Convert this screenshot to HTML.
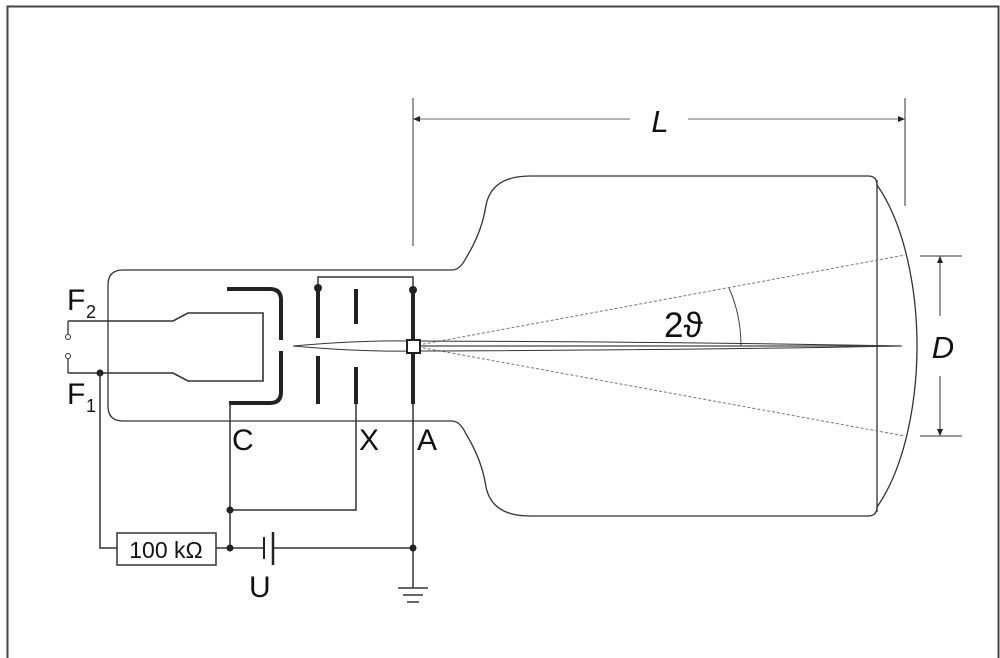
<!DOCTYPE html>
<html><head><meta charset="utf-8"><style>
html,body{margin:0;padding:0;background:#fff}
svg{display:block}
text{font-family:"Liberation Sans",sans-serif;fill:#111}
</style></head><body>
<svg width="1000" height="658" viewBox="0 0 1000 658" xmlns="http://www.w3.org/2000/svg">
<!-- frame -->
<path d="M7.5 658 V6.5 H998.5 V658" fill="none" stroke="#444" stroke-width="2"/>
<!-- tube outline -->
<path d="M123 270 H452 Q460 270 466 258 Q482 232 486 205 Q492 176 530 176 H868 Q877 176 877 185 C905 225 917 290 917 346 C917 402 905 467 877 507 Q877 516 868 516 H530 Q492 516 486 487 Q482 460 466 434 Q460 421 452 421 H123 Q108 421 108 406 V285 Q108 270 123 270" fill="none" stroke="#333" stroke-width="1.3"/>
<line x1="877" y1="180" x2="877" y2="512" stroke="#333" stroke-width="1.3"/>
<!-- L dimension -->
<line x1="413" y1="98" x2="413" y2="246" stroke="#333" stroke-width="1"/>
<line x1="905" y1="98" x2="905" y2="206" stroke="#333" stroke-width="1"/>
<line x1="413" y1="119" x2="630" y2="119" stroke="#666" stroke-width="1"/>
<line x1="688" y1="119" x2="905" y2="119" stroke="#666" stroke-width="1"/>
<path d="M413 119 l7 -3 v6 z M905 119 l-7 -3 v6 z" fill="#222"/>
<text x="660" y="132" font-size="31" font-style="italic" text-anchor="middle">L</text>
<!-- D dimension -->
<line x1="920" y1="256" x2="962" y2="256" stroke="#333" stroke-width="1"/>
<line x1="920" y1="436" x2="962" y2="436" stroke="#333" stroke-width="1"/>
<line x1="940" y1="256" x2="940" y2="316" stroke="#333" stroke-width="1"/>
<line x1="940" y1="376" x2="940" y2="436" stroke="#333" stroke-width="1"/>
<path d="M940 256 l-3 7 h6 z M940 436 l-3 -7 h6 z" fill="#222"/>
<text x="943" y="358" font-size="31" font-style="italic" text-anchor="middle">D</text>
<!-- dashed cone -->
<line x1="413" y1="346" x2="905" y2="255" stroke="#777" stroke-width="1" stroke-dasharray="3,2"/>
<line x1="413" y1="346" x2="905" y2="436" stroke="#777" stroke-width="1" stroke-dasharray="3,2"/>
<!-- angle arc -->
<path d="M729 288 Q741 315 741 346" fill="none" stroke="#444" stroke-width="1"/>
<text x="664" y="337" font-size="35">2ϑ</text>
<!-- beam -->
<path d="M293 346 Q360 340 413 341 Q700 342 902 346 Q700 350 413 351 Q360 352 293 346 Z" fill="none" stroke="#333" stroke-width="1"/>
<line x1="413" y1="346" x2="902" y2="346" stroke="#444" stroke-width="1.2"/>
<!-- filament -->
<path d="M68 321 H173 L188 313 H263 V381 H188 L173 373 H68" fill="none" stroke="#333" stroke-width="1.6"/>
<line x1="68" y1="321" x2="68" y2="334" stroke="#333" stroke-width="1.3"/>
<line x1="68" y1="359" x2="68" y2="373" stroke="#333" stroke-width="1.3"/>
<circle cx="68" cy="337" r="2.5" fill="#fff" stroke="#333" stroke-width="1"/>
<circle cx="68" cy="356" r="2.5" fill="#fff" stroke="#333" stroke-width="1"/>
<circle cx="100" cy="373" r="3.5" fill="#222"/>
<!-- cathode cup -->
<path d="M227 289 H270 Q281 289 281 300 V340 M281 351 V392 Q281 403 270 403 H229" fill="none" stroke="#222" stroke-width="4"/>
<!-- plates -->
<path d="M318 289 V338 M318 356 V404" stroke="#222" stroke-width="4" fill="none"/>
<path d="M356 289 V324 M356 367 V404" stroke="#222" stroke-width="4" fill="none"/>
<path d="M413 290 V339 M413 353 V404" stroke="#222" stroke-width="4" fill="none"/>
<rect x="407" y="340" width="13" height="13" fill="#fff" stroke="#222" stroke-width="2"/>
<path d="M318 288 V277 H413 V290" fill="none" stroke="#333" stroke-width="1.5"/>
<circle cx="318" cy="288" r="4" fill="#222"/>
<circle cx="413" cy="290" r="4" fill="#222"/>
<!-- external wiring -->
<path d="M230 403 V548" stroke="#333" stroke-width="1.5" fill="none"/>
<path d="M356 404 V510 H230" stroke="#333" stroke-width="1.5" fill="none"/>
<path d="M413 404 V588" stroke="#333" stroke-width="1.5" fill="none"/>
<path d="M100 373 V548 H117" stroke="#333" stroke-width="1.5" fill="none"/>
<rect x="117" y="533" width="99" height="32" fill="#fff" stroke="#333" stroke-width="1.5"/>
<text x="166" y="558" font-size="23" text-anchor="middle">100 kΩ</text>
<path d="M216 548 H264 M273 548 H413" stroke="#333" stroke-width="1.5" fill="none"/>
<line x1="264" y1="537" x2="264" y2="559" stroke="#222" stroke-width="2"/>
<line x1="273" y1="532" x2="273" y2="565" stroke="#222" stroke-width="2.5"/>
<circle cx="230" cy="510" r="3.5" fill="#222"/>
<circle cx="230" cy="548" r="3.5" fill="#222"/>
<circle cx="413" cy="548" r="3.5" fill="#222"/>
<!-- ground -->
<line x1="398" y1="588" x2="428" y2="588" stroke="#333" stroke-width="1.5"/>
<line x1="403" y1="595" x2="423" y2="595" stroke="#333" stroke-width="1.5"/>
<line x1="407" y1="602" x2="419" y2="602" stroke="#333" stroke-width="1.5"/>
<!-- labels -->
<text x="67" y="310" font-size="30">F</text><text x="86" y="318" font-size="18">2</text>
<text x="67" y="404" font-size="30">F</text><text x="86" y="412" font-size="18">1</text>
<text x="232" y="450" font-size="30">C</text>
<text x="359" y="450" font-size="30">X</text>
<text x="417" y="450" font-size="30">A</text>
<text x="249" y="597" font-size="30">U</text>
</svg>
</body></html>
